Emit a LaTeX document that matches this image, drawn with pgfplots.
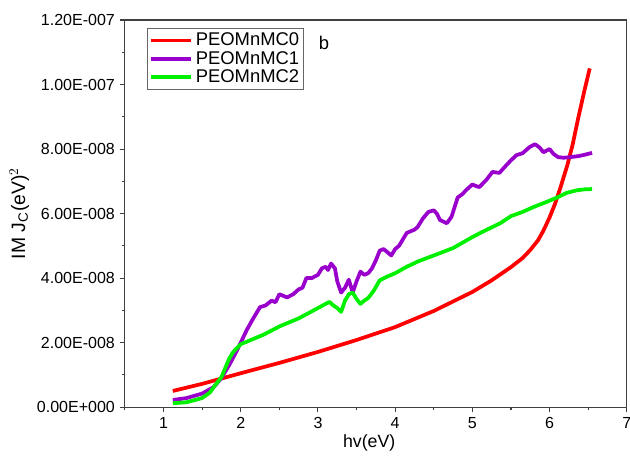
\documentclass[border=0pt]{standalone}
\usepackage{pgfplots}
\pgfplotsset{compat=1.18}
\usepackage{fontspec}
\setmainfont{Liberation Sans}
\definecolor{cred}{RGB}{255,0,0}
\definecolor{cpur}{RGB}{153,0,204}
\definecolor{cgrn}{RGB}{0,240,0}
\begin{document}
\begin{tikzpicture}
\useasboundingbox (-93.6pt,-39pt) rectangle (378.4pt,305pt);
\begin{axis}[
  at={(0,0)}, anchor=south west,
  scale only axis, width=376pt, height=290pt,
  xmin=0.5, xmax=7, ymin=0, ymax=12,
  xtick={1,2,3,4,5,6,7}, minor xtick={0.5,1.5,2.5,3.5,4.5,5.5,6.5},
  ytick={0,2,4,6,8,10,12}, minor ytick={1,3,5,7,9,11},
  yticklabels={0.00E+000,2.00E-008,4.00E-008,6.00E-008,8.00E-008,1.00E-007,1.20E-007},
  tick pos=left, tick align=outside,
  major tick length=4pt, minor tick length=2.5pt,
  tick style={line width=0.8pt, color=black!75},
  axis line style={line width=0.8pt, color=black!75},
  /pgf/number format/assume math mode=true,
  ticklabel style={font=\fontsize{12}{14}\selectfont},
  xlabel={hv(eV)}, ylabel={IM J$_\mathrm{C}$(eV)$^2$},
  xlabel style={font=\fontsize{13.3}{15}\selectfont, yshift=2pt, xshift=-5pt},
  ylabel style={font=\fontsize{14.5}{16}\selectfont, yshift=-1pt},
  legend style={at={(16.5pt,284pt)}, anchor=north west, draw=black!60, line width=0.6pt,
    font=\fontsize{13.8}{16}\selectfont, row sep=-1.5pt, inner sep=1.5pt},
  legend cell align=left,
  legend image code/.code={\draw[#1, line width=2.8pt] (0pt,0pt) -- (30pt,0pt);},
  every axis plot/.append style={line width=2.8pt, line join=round},
  clip=false,
]
\addplot[cred] coordinates {
(1.12,0.50)(1.5,0.72)(2.0,1.05)(2.5,1.37)(3.0,1.71)(3.5,2.08)(4.0,2.48)(4.5,2.98)(5.0,3.57)(5.25,3.93)(5.5,4.34)(5.65,4.62)(5.75,4.87)(5.85,5.17)(5.92,5.47)(6.0,5.88)(6.07,6.3)(6.14,6.8)(6.23,7.5)(6.3,8.15)(6.37,8.95)(6.45,9.8)(6.52,10.5)};
\addlegendentry{PEOMnMC0}
\addplot[cpur] coordinates {
(1.12,0.22)(1.3,0.28)(1.5,0.42)(1.65,0.62)(1.75,0.9)(1.85,1.3)(1.95,1.75)(2.0,2.0)(2.08,2.4)(2.15,2.7)(2.25,3.1)(2.32,3.15)(2.4,3.3)(2.45,3.25)(2.5,3.5)(2.55,3.45)(2.6,3.4)(2.68,3.5)(2.75,3.65)(2.8,3.7)(2.85,4.0)(2.92,4.0)(3.0,4.1)(3.05,4.3)(3.1,4.35)(3.13,4.25)(3.17,4.45)(3.22,4.3)(3.25,3.9)(3.3,3.55)(3.35,3.7)(3.4,3.95)(3.45,3.55)(3.5,3.9)(3.55,4.2)(3.6,4.1)(3.65,4.15)(3.7,4.3)(3.75,4.55)(3.8,4.85)(3.85,4.9)(3.9,4.8)(3.95,4.7)(4.0,4.9)(4.05,5.0)(4.1,5.2)(4.15,5.4)(4.2,5.45)(4.25,5.5)(4.29,5.58)(4.36,5.85)(4.43,6.05)(4.5,6.1)(4.54,6.0)(4.58,5.8)(4.67,5.7)(4.73,5.9)(4.81,6.5)(4.87,6.6)(4.92,6.73)(5.0,6.9)(5.05,6.85)(5.09,6.82)(5.18,7.04)(5.26,7.29)(5.35,7.26)(5.44,7.5)(5.5,7.65)(5.57,7.81)(5.65,7.87)(5.74,8.06)(5.81,8.15)(5.87,8.05)(5.92,7.9)(6.0,8.0)(6.05,7.85)(6.11,7.75)(6.18,7.73)(6.27,7.75)(6.37,7.78)(6.45,7.82)(6.55,7.88)};
\addlegendentry{PEOMnMC1}
\addplot[cgrn] coordinates {
(1.12,0.12)(1.3,0.15)(1.5,0.28)(1.6,0.45)(1.65,0.62)(1.75,0.93)(1.85,1.5)(1.9,1.7)(1.95,1.83)(2.0,1.95)(2.1,2.05)(2.3,2.25)(2.5,2.5)(2.75,2.75)(3.0,3.07)(3.1,3.2)(3.15,3.26)(3.2,3.15)(3.25,3.07)(3.3,2.95)(3.35,3.3)(3.4,3.5)(3.45,3.55)(3.5,3.35)(3.55,3.2)(3.6,3.3)(3.65,3.38)(3.72,3.6)(3.8,3.93)(3.9,4.05)(4.0,4.15)(4.15,4.35)(4.3,4.52)(4.5,4.7)(4.75,4.93)(5.0,5.27)(5.12,5.42)(5.36,5.7)(5.5,5.92)(5.65,6.05)(5.79,6.2)(5.95,6.35)(6.1,6.5)(6.22,6.64)(6.35,6.72)(6.45,6.75)(6.55,6.76)};
\addlegendentry{PEOMnMC2}
\node[font=\fontsize{13.8}{16}\selectfont, anchor=west] at (axis cs:2.95,11.3) {b};
\end{axis}
\end{tikzpicture}
\end{document}
